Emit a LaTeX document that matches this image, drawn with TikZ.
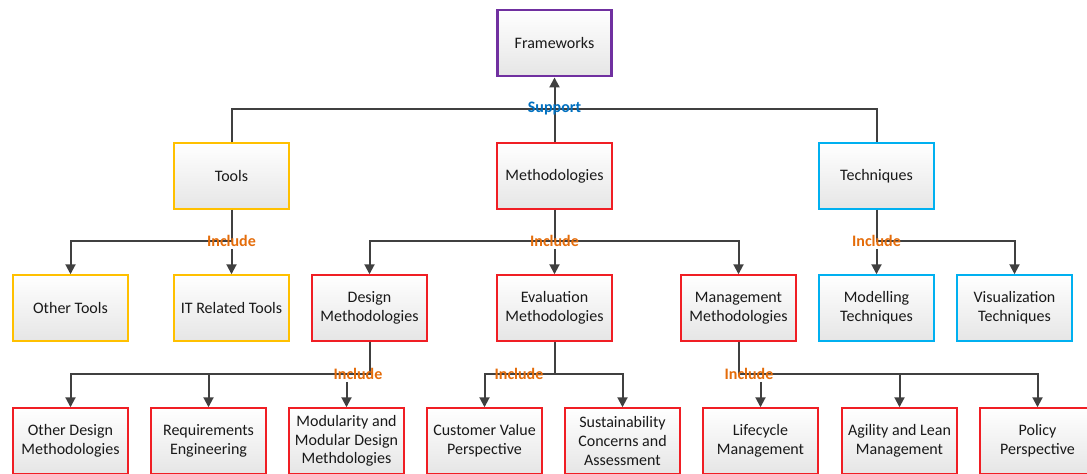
\documentclass[tikz,border=0pt]{standalone}
\usepackage{fontspec}
\setmainfont{Carlito}
\usepackage{xcolor}
\usepackage{tikz}
\usetikzlibrary{arrows.meta, shadows}
\definecolor{frameworkcolor}{RGB}{112, 48, 160}
\definecolor{toolcolor}{RGB}{255, 192, 0}
\definecolor{methodcolor}{RGB}{240, 30, 36}
\definecolor{techniquecolor}{RGB}{0, 176, 240}
\definecolor{supportcolor}{RGB}{0, 112, 192}
\definecolor{includecolor}{RGB}{228, 108, 10}
\definecolor{linecolor}{RGB}{64, 64, 64}

\begin{document}
\begin{tikzpicture}[
    x=0.75pt, y=-0.75pt,
    box/.style={draw, rectangle, minimum width=86pt, minimum height=49.5pt, align=center,
        font=\fontsize{12}{14}\selectfont, text=black!90, line width=1.1pt,
        top color=white, bottom color=black!10,
        drop shadow={shadow xshift=1pt, shadow yshift=-1pt, opacity=0.25}},
    link/.style={draw=linecolor, line width=1.5pt},
    arrow/.style={link, -{Triangle[length=7.5pt, width=7.5pt]}},
    support/.style={font=\fontsize{12}{14}\selectfont\bfseries, text=supportcolor, inner sep=1.5pt},
    include/.style={font=\fontsize{12}{14}\selectfont\bfseries, text=includecolor, inner sep=1.5pt}
]
    \useasboundingbox (0,0) rectangle (1087,474);

    % Top
    \node[box, draw=frameworkcolor, line width=2.2pt] (frameworks) at (554.5,43) {Frameworks};

    % Second row
    \node[box, draw=toolcolor] (tools) at (231.5,176) {Tools};
    \node[box, draw=methodcolor] (methodologies) at (554.5,176) {Methodologies};
    \node[box, draw=techniquecolor] (techniques) at (876.5,176) {Techniques};

    % Third row
    \node[box, draw=toolcolor] (othertools) at (70.5,308) {Other Tools};
    \node[box, draw=toolcolor] (ittools) at (231.5,308) {IT Related Tools};
    \node[box, draw=methodcolor] (design) at (369.5,308) {Design\\Methodologies};
    \node[box, draw=methodcolor] (evaluation) at (554.5,308) {Evaluation\\Methodologies};
    \node[box, draw=methodcolor] (management) at (738.5,308) {Management\\Methodologies};
    \node[box, draw=techniquecolor] (modelling) at (876.5,308) {Modelling\\Techniques};
    \node[box, draw=techniquecolor] (visualization) at (1014.5,308) {Visualization\\Techniques};

    % Fourth row
    \node[box, draw=methodcolor] (otherdesign) at (70.5,441) {Other Design\\Methodologies};
    \node[box, draw=methodcolor] (requirements) at (208.5,441) {Requirements\\Engineering};
    \node[box, draw=methodcolor] (modularity) at (346.5,441) {Modularity and\\Modular Design\\Methdologies};
    \node[box, draw=methodcolor] (customer) at (484.5,441) {Customer Value\\Perspective};
    \node[box, draw=methodcolor] (sustainability) at (622.5,441) {Sustainability\\Concerns and\\Assessment};
    \node[box, draw=methodcolor] (lifecycle) at (760.5,441) {Lifecycle\\Management};
    \node[box, draw=methodcolor] (agility) at (899.5,441) {Agility and Lean\\Management};
    \node[box, draw=methodcolor] (policy) at (1037.5,441) {Policy\\Perspective};

    % Junctions
    \coordinate (supJ) at (554.5,109);
    \coordinate (designJ) at (369.5,374);
    \coordinate (evalJ) at (554.5,374);
    \coordinate (mgmtJ) at (738.5,374);

    % Support
    \draw[link] (tools.north) |- (supJ) -| (techniques.north);
    \draw[arrow] (methodologies) -- (frameworks);

    % Include, second to third row
    \draw[arrow] (tools.south) |- (othertools.north |- 0,241) -- (othertools.north);
    \draw[arrow] (methodologies.south) |- (design.north |- 0,241) -- (design.north);
    \draw[arrow] (methodologies.south |- 0,241) -| (management.north);
    \draw[arrow] (techniques.south) |- (visualization.north |- 0,241) -- (visualization.north);

    % Include, third to fourth row
    \draw[arrow] (design.south) -- (designJ) -| (otherdesign.north);
    \draw[arrow] (designJ) -| (requirements.north);
    \draw[arrow] (evaluation.south) -- (evalJ) -| (customer.north);
    \draw[arrow] (evalJ) -| (sustainability.north);
    \draw[arrow] (management.south) -- (mgmtJ) -| (policy.north);
    \draw[arrow] (mgmtJ) -| (agility.north);

    % Labels
    \node[support] (supportlbl) at (supJ) {Support};
    \node[include] (toolsinc) at (231.5,241) {Include};
    \node[include] (methinc) at (554.5,241) {Include};
    \node[include] (techinc) at (876.5,241) {Include};
    \node[include] (designinc) at (358,374) {Include};
    \node[include] (evalinc) at (519,374) {Include};
    \node[include] (mgmtinc) at (749,374) {Include};

    % Arrows below the labels
    \draw[arrow] (ittools.north |- toolsinc.south) -- (ittools.north);
    \draw[arrow] (evaluation.north |- methinc.south) -- (evaluation.north);
    \draw[arrow] (modelling.north |- techinc.south) -- (modelling.north);
    \draw[arrow] (modularity.north |- designinc.south) -- (modularity.north);
    \draw[arrow] (lifecycle.north |- mgmtinc.south) -- (lifecycle.north);
\end{tikzpicture}
\end{document}
